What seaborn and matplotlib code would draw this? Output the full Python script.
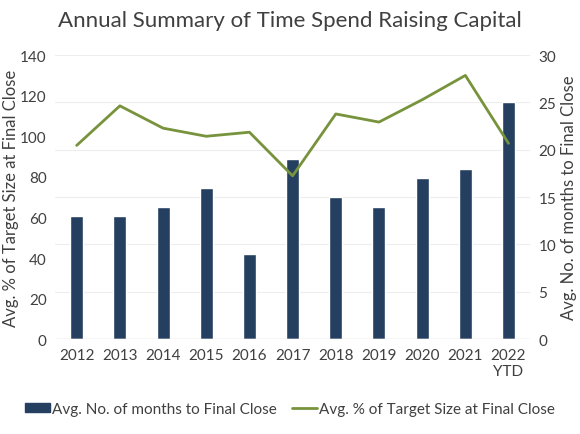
import numpy as np
import pandas as pd
import matplotlib
matplotlib.use("Agg")
import matplotlib.pyplot as plt
import seaborn as sns
from matplotlib.patches import Patch
from matplotlib.lines import Line2D

# Chart data
years = ["2012", "2013", "2014", "2015", "2016", "2017", "2018", "2019", "2020", "2021", "2022\nYTD"]
months_to_close = [13, 13, 14, 16, 9, 19, 15, 14, 17, 18, 25]
pct_target_size = [95.5, 115, 104, 100, 102, 80.5, 111, 107, 118, 130, 96.5]

bar_color = "#243F60"
line_color = "#77933C"
text_color = "#404040"

sns.set_theme(style="white")
plt.rcParams["font.family"] = ["Lato", "DejaVu Sans"]

df = pd.DataFrame({"year": years, "months": months_to_close,
                   "pct": pct_target_size, "pos": np.arange(len(years))})

fig = plt.figure(figsize=(5.8, 4.35), dpi=100)
ax = fig.add_axes([0.095, 0.218, 0.819, 0.653])
ax2 = ax.twinx()

# bars on the right axis (months), line on the left axis (%)
sns.barplot(data=df, x="year", y="months", color=bar_color, width=0.3,
            saturation=1, ax=ax2)
sns.lineplot(data=df, x="pos", y="pct", color=line_color, linewidth=2.0, ax=ax)

ax.set_zorder(ax2.get_zorder() + 1)
ax.patch.set_visible(False)

ax.set_ylim(0, 140)
ax.set_yticks(np.arange(0, 141, 20))
ax2.set_ylim(0, 30)
ax2.set_yticks(np.arange(0, 31, 5))
ax.set_xlim(-0.5, len(years) - 0.5)
ax2.set_xlim(-0.5, len(years) - 0.5)
ax.set_xticks(np.arange(len(years)))
ax.set_xticklabels(years)
ax2.set_xlabel("")

ax2.yaxis.grid(True, color="#EDEDED", linewidth=0.8)
ax2.set_axisbelow(True)
for a in (ax, ax2):
    for s in a.spines.values():
        s.set_visible(False)
    a.tick_params(axis="both", length=0, labelsize=11, colors=text_color, pad=6)
ax2.axhline(0, color="#D9D9D9", linewidth=1)

ax.set_xlabel("")
ax.set_ylabel("Avg. % of Target Size at Final Close", fontsize=12, color=text_color)
ax.yaxis.set_label_coords(-0.077, 0.5)
ax2.set_ylabel("Avg. No. of months to Final Close", fontsize=12, color=text_color,
               rotation=90)
ax2.yaxis.set_label_coords(1.066, 0.5)

fig.suptitle("Annual Summary of Time Spend Raising Capital", fontsize=16,
             color=text_color, y=0.975)

handles = [Patch(facecolor=bar_color, edgecolor=bar_color),
           Line2D([0], [0], color=line_color, linewidth=2.0)]
labels = ["Avg. No. of months to Final Close", "Avg. % of Target Size at Final Close"]
fig.legend(handles, labels, loc="center", bbox_to_anchor=(0.5, 0.057), ncol=2,
           frameon=False, fontsize=11, handlelength=1.6, handleheight=0.5,
           handletextpad=0.15, columnspacing=1.0, labelcolor=text_color)

fig.savefig("out.png", dpi=100)
